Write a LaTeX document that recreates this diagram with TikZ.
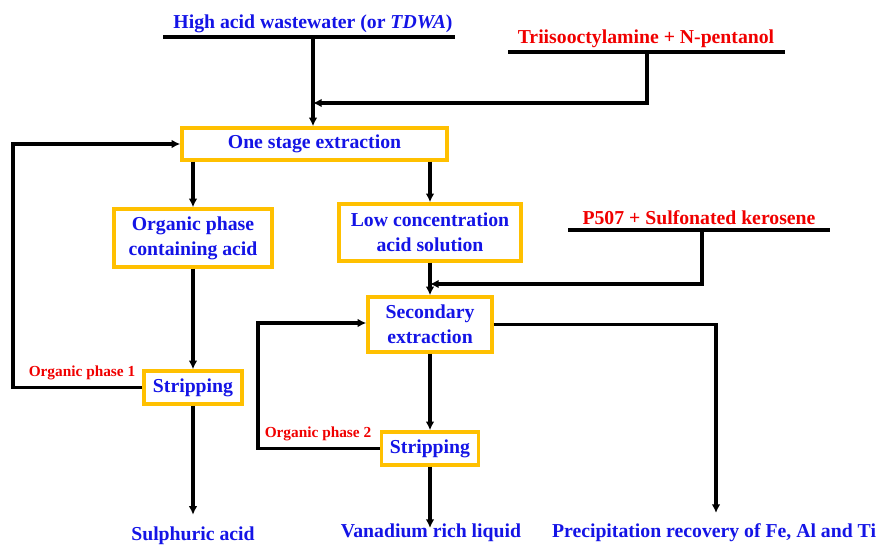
\documentclass[tikz,border=0pt]{standalone}
\usepackage{fontspec}
\setmainfont{Liberation Serif}
\usetikzlibrary{arrows.meta}
\definecolor{procblue}{RGB}{20,20,230}
\definecolor{feedred}{RGB}{240,0,0}
\definecolor{boxgold}{RGB}{255,192,0}
\tikzset{
  stepbox/.style={draw=boxgold, line width=2.6pt, fill=white, text=procblue,
    font=\bfseries\fontsize{14.8}{18.5}\selectfont, align=center, inner sep=0pt},
  product/.style={text=procblue, font=\bfseries\fontsize{14.8}{18}\selectfont, inner sep=1pt},
  reagent/.style={font=\bfseries\fontsize{14.8}{18}\selectfont, inner sep=1pt},
  phaselabel/.style={text=feedred, font=\bfseries\fontsize{11.5}{13}\selectfont, inner sep=0pt},
  flow/.style={line width=2.3pt, -{Latex[length=6.5pt,width=6.5pt]}},
  feed/.style={line width=2.3pt},
}
\begin{document}
\begin{tikzpicture}[x=0.75pt,y=-0.75pt]
  \useasboundingbox (0,0) rectangle (878,545);
  % feed streams
  \node[reagent, text=procblue] (hawater) at (313,24) {High acid wastewater (or \textit{TDWA})};
  \coordinate (hw-l) at (163,37);
  \coordinate (hw-r) at (455,37);
  \coordinate (hwtap) at (313,37);
  \draw[feed] (hw-l) -- (hw-r);
  \node[reagent, text=feedred] (tiao) at (646,39) {Triisooctylamine + N-pentanol};
  \coordinate (ta-l) at (508,52);
  \coordinate (ta-r) at (785,52);
  \coordinate (tatap) at (647,52);
  \coordinate (tajoin) at (313,103);
  \draw[feed] (ta-l) -- (ta-r);
  \node[reagent, text=feedred] (p507) at (699,218) {P507 + Sulfonated kerosene};
  \coordinate (p-l) at (568,230);
  \coordinate (p-r) at (830,230);
  \coordinate (ptap) at (702,230);
  \coordinate (pjoin) at (430,284);
  \draw[feed] (p-l) -- (p-r);
  % process boxes
  \node[stepbox, minimum width=198.75pt, minimum height=24pt] (ext1) at (314.5,144) {One stage extraction};
  \node[stepbox, minimum width=118.5pt, minimum height=43.5pt] (orgph) at (193,238) {Organic phase\\containing acid};
  \node[stepbox, minimum width=136.5pt, minimum height=42.75pt] (lowacid) at (430,232.5) {Low concentration\\acid solution};
  \node[stepbox, minimum width=93pt, minimum height=41.25pt] (ext2) at (430,324.5) {Secondary\\extraction};
  \node[stepbox, minimum width=73.5pt, minimum height=24.75pt] (strip1) at (193,387.5) {Stripping};
  \node[stepbox, minimum width=72.75pt, minimum height=24.75pt] (strip2) at (430,448.5) {Stripping};
  % products
  \node[product] (sulph) at (193,536) {Sulphuric acid};
  \node[product] (vanad) at (431,533) {Vanadium rich liquid};
  \node[product] (precip) at (714,533) {Precipitation recovery of Fe, Al and Ti};
  \coordinate (vanend) at (430,528);
  % recycle labels
  \node[phaselabel] (orgph1) at (82,373) {Organic phase 1};
  \node[phaselabel] (orgph2) at (318,434) {Organic phase 2};
  \coordinate (loop1) at (13,144);
  \coordinate (loop2) at (258,323);
  % connectors
  \draw[flow] (hwtap) -- (hwtap |- ext1.north);
  \draw[flow] (tatap) |- (tajoin);
  \draw[flow] (ext1.south -| orgph.north) -- (orgph.north);
  \draw[flow] (ext1.south -| lowacid.north) -- (lowacid.north);
  \draw[flow] (orgph.south) -- (strip1.north);
  \draw[flow] (strip1.west) -| (loop1) -- (ext1.west |- loop1);
  \draw[flow] (strip1.south) -- ([yshift=8pt]sulph.north);
  \draw[flow] (lowacid.south) -- (ext2.north);
  \draw[flow] (ptap) |- (pjoin);
  \draw[flow] (ext2.south) -- (strip2.north);
  \draw[flow] (strip2.west) -| (loop2) -- (ext2.west |- loop2);
  \draw[flow] (strip2.south) -- (vanend);
  \draw[flow] (ext2.east) -| ([yshift=7pt]precip.north -| 716,0);
\end{tikzpicture}
\end{document}
